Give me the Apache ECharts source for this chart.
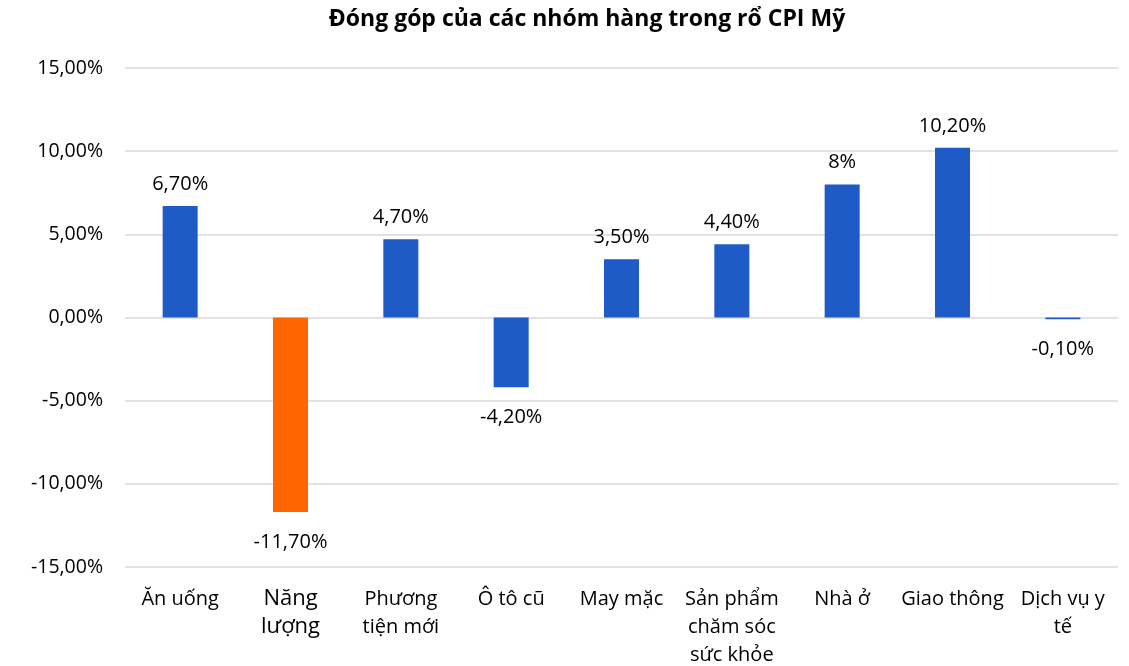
<!DOCTYPE html>
<html>
<head>
<meta charset="utf-8">
<script src="https://cdn.jsdelivr.net/npm/echarts@6/dist/echarts.min.js"></script>
<style>
	html, body { margin: 0; padding: 0; background: #fff; }
	#chart { width: 1129px; height: 666px; }
</style>
</head>
<body>
<div id="chart"></div>
<script>
var categories = ['Ăn uống', 'Năng\nlượng', 'Phương\ntiện mới', 'Ô tô cũ', 'May mặc', 'Sản phẩm\nchăm sóc\nsức khỏe', 'Nhà ở', 'Giao thông', 'Dịch vụ y\ntế'];
var values = [6.7, -11.7, 4.7, -4.2, 3.5, 4.4, 8, 10.2, -0.1];
var valueLabels = ['6,70%', '-11,70%', '4,70%', '-4,20%', '3,50%', '4,40%', '8%', '10,20%', '-0,10%'];
var barColors = ['#1f5bc6', '#ff6600', '#1f5bc6', '#1f5bc6', '#1f5bc6', '#1f5bc6', '#1f5bc6', '#1f5bc6', '#1f5bc6'];
var yTicks = [-15, -10, -5, 0, 5, 10, 15];

var fontFam = '"Open Sans", "Noto Sans", sans-serif';

var chart = echarts.init(document.getElementById('chart'));

var seriesData = values.map(function (v, i) {
	return {
		value: v,
		itemStyle: { color: barColors[i] },
		label: {
			position: v < 0 ? 'bottom' : 'top',
			distance: v < 0 ? 20 : 12,
			formatter: valueLabels[i]
		}
	};
});

chart.setOption({
	animation: false,
	title: {
		text: 'Đóng góp của các nhóm hàng trong rổ CPI Mỹ',
		left: 582,
		textAlign: 'center',
		top: 3,
		textStyle: { fontFamily: fontFam, fontSize: 23, fontWeight: 'bold', color: '#000' }
	},
	grid: { left: 125, right: 11, top: 68, bottom: 99, containLabel: false, outerBoundsMode: 'none' },
	xAxis: {
		type: 'category',
		data: categories,
		axisLine: { show: false },
		axisTick: { show: false },
		axisLabel: {
			interval: 0,
			margin: 18,
			color: '#000',
			fontFamily: fontFam,
			fontSize: 20,
			lineHeight: 28,
			formatter: function (v) {
				if (v.indexOf('Năng') === 0) return '{big|' + v + '}';
				return v;
			},
			rich: {
				big: { fontFamily: fontFam, fontSize: 22, lineHeight: 28, color: '#000' }
			}
		}
	},
	yAxis: {
		type: 'value',
		min: yTicks[0],
		max: yTicks[yTicks.length - 1],
		interval: 5,
		axisLine: { show: false },
		axisTick: { show: false },
		splitLine: { lineStyle: { color: '#d9d9d9', width: 1.5 } },
		axisLabel: {
			margin: 22,
			color: '#000',
			fontFamily: fontFam,
			fontSize: 19.5,
			formatter: function (v) { return v.toFixed(2).replace('.', ',') + '%'; }
		}
	},
	series: [{
		type: 'bar',
		data: seriesData,
		barWidth: 35,
		label: {
			show: true,
			color: '#000',
			fontFamily: fontFam,
			fontSize: 20
		}
	}]
});
</script>
</body>
</html>
